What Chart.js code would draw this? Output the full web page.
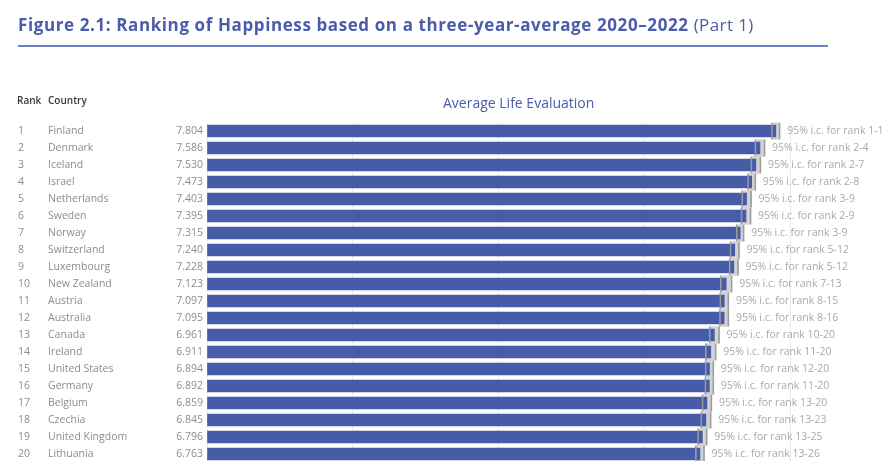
<!DOCTYPE html>
<html><head><meta charset="utf-8">
<script src="https://cdn.jsdelivr.net/npm/chart.js@4"></script>
<style>
html,body{margin:0;padding:0;background:#fff;overflow:hidden;width:891px;height:461px;}
#title{position:absolute;left:18px;top:13px;font-family:"Open Sans";font-size:17px;font-weight:700;color:#4a5caa;white-space:nowrap;letter-spacing:0.6px;}
#title span{font-weight:400;letter-spacing:0.4px;}
#rule{position:absolute;left:18px;top:45px;width:810px;height:2px;background:#6b7ec6;}
#wrap{position:absolute;left:0;top:0;width:891px;height:470px;}
</style></head><body>
<div id="wrap"><canvas id="c" width="891" height="470"></canvas></div>
<div id="title">Figure 2.1: Ranking of Happiness based on a three-year-average 2020–2022 <span>(Part 1)</span></div>
<div id="rule"></div>
<script>
const ranks = [1,2,3,4,5,6,7,8,9,10,11,12,13,14,15,16,17,18,19,20];
const countries = ["Finland","Denmark","Iceland","Israel","Netherlands","Sweden","Norway","Switzerland","Luxembourg","New Zealand","Austria","Australia","Canada","Ireland","United States","Germany","Belgium","Czechia","United Kingdom","Lithuania"];
const scores = [7.804,7.586,7.530,7.473,7.403,7.395,7.315,7.240,7.228,7.123,7.097,7.095,6.961,6.911,6.894,6.892,6.859,6.845,6.796,6.763];
const ciLow = [7.745,7.515,7.460,7.416,7.335,7.325,7.260,7.174,7.163,7.041,7.034,7.030,6.890,6.836,6.834,6.830,6.791,6.773,6.730,6.700];
const ciHigh = [7.863,7.657,7.600,7.530,7.471,7.465,7.370,7.306,7.293,7.205,7.160,7.160,7.032,6.986,6.954,6.954,6.927,6.917,6.862,6.826];
const rankRanges = ["1-1","2-4","2-7","2-8","3-9","2-9","3-9","5-12","5-12","7-13","8-15","8-16","10-20","11-20","12-20","11-20","13-20","13-23","13-25","13-26"];
const xTicks = [0,2,4,6,8];

const ciPairs = ciLow.map((l,i)=>[l, ciHigh[i]]);
const FONT = '"Open Sans", sans-serif';

const textPlugin = {
  id:'texts',
  afterDraw(chart){
    const ctx = chart.ctx, y = chart.scales.y, x = chart.scales.x;
    ctx.save();
    ctx.textBaseline = 'middle';
    ctx.fillStyle = '#3a3a3a';
    ctx.font = '600 10px ' + FONT;
    ctx.textAlign = 'left';
    ctx.fillText('Rank', 17, 101);
    ctx.fillText('Country', 48, 101);
    ctx.fillStyle = '#4a5caa';
    ctx.font = '14px ' + FONT;
    ctx.fillText('Average Life Evaluation', 443, 104);
    ctx.font = '10.5px ' + FONT;
    countries.forEach((c,i)=>{
      const py = y.getPixelForValue(i);
      ctx.fillStyle = '#8c8c8c';
      ctx.textAlign = 'left';
      ctx.fillText(String(ranks[i]), 18, py);
      ctx.fillText(c, 48, py);
      ctx.textAlign = 'right';
      ctx.fillText(scores[i].toFixed(3), 203, py);
      ctx.textAlign = 'left';
      ctx.fillStyle = '#a9a9a9';
      ctx.fillText('95% i.c. for rank ' + rankRanges[i], x.getPixelForValue(ciHigh[i]) + 7, py);
    });
    ctx.restore();
  }
};

new Chart(document.getElementById('c'), {
  type:'bar',
  data:{
    labels: countries,
    datasets:[
      {data: ciPairs, backgroundColor:'#d3d3d3', borderWidth:0, barThickness:17, grouped:false, order:3},
      {data: scores, backgroundColor:'#475ca8', borderWidth:0, barThickness:12, grouped:false, order:2},
      {data: ciPairs, backgroundColor:'rgba(0,0,0,0)', borderColor:'#9c9c9c', borderWidth:{left:1,right:1,top:0,bottom:0}, borderSkipped:false, barThickness:17, grouped:false, order:1}
    ]
  },
  options:{
    indexAxis:'y',
    responsive:false,
    animation:false,
    devicePixelRatio:1,
    layout:{padding:{left:207, right:28, top:122.5, bottom:7.5}},
    plugins:{legend:{display:false}, tooltip:{enabled:false}, title:{display:false}},
    scales:{
      x:{min:0, max:9, position:'top',
         afterBuildTicks(s){ s.ticks = xTicks.map(v=>({value:v})); },
         afterFit(s){ s.height = 0; },
         ticks:{display:false}, border:{display:false},
         grid:{color:'#ebebeb', drawTicks:false, lineWidth:1}},
      y:{display:false, afterFit(s){ s.width = 0; }}
    }
  },
  plugins:[textPlugin]
});
</script>
</body></html>
